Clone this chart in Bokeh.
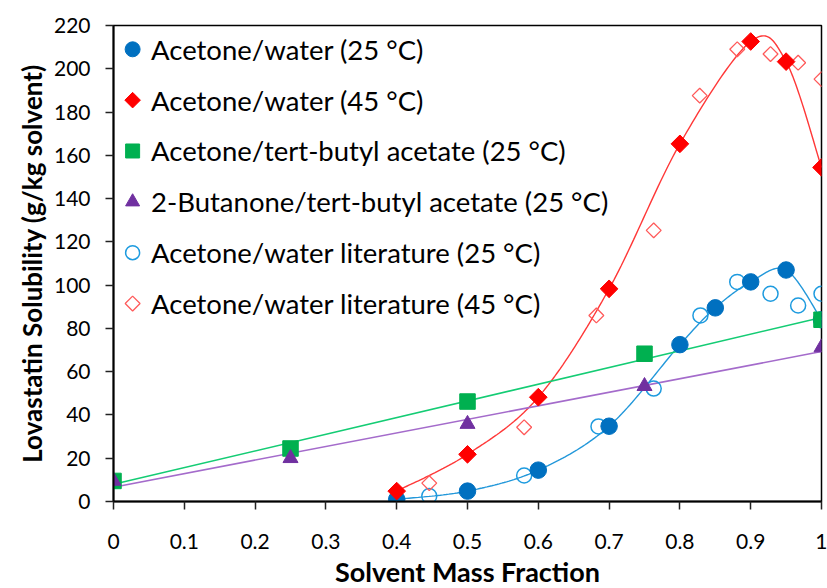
import numpy as np
from bokeh.plotting import figure
from bokeh.models import FixedTicker, NumeralTickFormatter, Title, Label
from bokeh.core.properties import value
from bokeh.embed import file_html
from bokeh.resources import INLINE

# Lovastatin solubility (g/kg solvent) against solvent mass fraction
aw25_x = [0.4, 0.5, 0.6, 0.7, 0.8, 0.85, 0.9, 0.95, 1.0]
aw25_y = [1.0, 4.8, 14.5, 34.8, 72.5, 89.5, 101.5, 107.0, 84.0]

aw45_x = [0.4, 0.5, 0.6, 0.7, 0.8, 0.9, 0.95, 1.0]
aw45_y = [4.8, 21.8, 48.2, 98.3, 165.3, 212.6, 203.3, 154.4]

atba_x = [0.0, 0.25, 0.5, 0.75, 1.0]
atba_y = [9.5, 24.5, 46.2, 68.3, 84.0]

btba_x = [0.0, 0.25, 0.5, 0.75, 1.0]
btba_y = [9.5, 20.0, 35.8, 53.3, 71.2]

lit25_x = [0.446, 0.58, 0.685, 0.763, 0.829, 0.881, 0.928, 0.967, 1.0]
lit25_y = [2.5, 12.0, 34.7, 52.2, 86.0, 101.5, 96.0, 90.6, 96.0]

lit45_x = [0.446, 0.58, 0.682, 0.763, 0.828, 0.881, 0.928, 0.967, 1.0]
lit45_y = [8.5, 34.3, 86.0, 125.3, 187.6, 209.0, 206.8, 202.8, 195.2]

series_names = [
    "Acetone/water (25 °C)",
    "Acetone/water (45 °C)",
    "Acetone/tert-butyl acetate (25 °C)",
    "2-Butanone/tert-butyl acetate (25 °C)",
    "Acetone/water literature (25 °C)",
    "Acetone/water literature (45 °C)",
]

x_title = "Solvent Mass Fraction"
y_title = "Lovastatin Solubility (g/kg solvent)"

x_ticks = [i / 10 for i in range(11)]
y_ticks = list(range(0, 221, 20))

BLUE, BLUE_LIGHT, BLUE_LINE = "#0070C0", "#1E9BDF", "#2398DA"
RED, RED_LIGHT, RED_LINE = "#FF0000", "#FF5A5A", "#FF3838"
GREEN, GREEN_LINE = "#00B050", "#14CC74"
PURPLE, PURPLE_LINE = "#7030A0", "#A46BCB"
FONT = "Lato"


def smooth(xs, ys, n=30):
    """Smoothed line through the points (cubic Bezier, Catmull-Rom tangents)."""
    P = np.column_stack([np.asarray(xs, float), np.asarray(ys, float)])
    m = len(P)
    out = [P[0]]
    t = np.linspace(0, 1, n)[1:, None]
    for i in range(m - 1):
        p0 = P[max(i - 1, 0)]
        p1, p2 = P[i], P[i + 1]
        p3 = P[min(i + 2, m - 1)]
        c1 = p1 + (p2 - p0) / 6.0
        c2 = p2 - (p3 - p1) / 6.0
        seg = ((1 - t) ** 3) * p1 + 3 * ((1 - t) ** 2) * t * c1 + 3 * (1 - t) * t ** 2 * c2 + t ** 3 * p2
        out.extend(seg)
    out = np.array(out)
    return out[:, 0], out[:, 1]


W, H = 827, 588
p = figure(
    width=W, height=H,
    x_range=(0, 1), y_range=(0, 220),
    output_backend="svg", toolbar_location=None,
    min_border_left=113, min_border_right=6,
    min_border_top=25, min_border_bottom=87,
)
p.grid.visible = False
p.outline_line_color = "black"
p.outline_line_width = 1.5
p.background_fill_color = "white"
p.border_fill_color = "white"

for ax in (p.xaxis[0], p.yaxis[0]):
    ax.axis_line_color = "black"
    ax.axis_line_width = 2
    ax.major_tick_line_color = "#222222"
    ax.major_tick_line_width = 1.5
    ax.major_tick_out = 8
    ax.major_tick_in = 0
    ax.minor_tick_line_color = None
    ax.major_label_text_font = FONT
    ax.major_label_text_font_size = "21px"
    ax.major_label_text_color = "black"

p.xaxis.ticker = FixedTicker(ticks=x_ticks)
p.xaxis.formatter = NumeralTickFormatter(format="0.[0]")
p.xaxis.major_label_standoff = 24

p.yaxis.ticker = FixedTicker(ticks=y_ticks)
p.yaxis.major_label_standoff = 15

# horizontal axis title, placed in canvas coordinates near the bottom edge
p.add_layout(Label(x=467, y=H - 17, x_units="canvas", y_units="canvas", text=x_title,
                   text_align="center", text_baseline="middle", text_font=FONT,
                   text_font_size="27px", text_font_style="bold", text_color="black"),
             "below")

# vertical axis title, set a little above the frame centre
p.add_layout(Title(text=y_title, align="center", offset=37, standoff=6, text_font=FONT,
                   text_font_size="26px", text_font_style="bold", text_color="black"), "left")

# fitted / smoothed lines
sx, sy = smooth(aw25_x, aw25_y)
p.line(sx, sy, line_color=BLUE_LINE, line_width=1.4)
sx, sy = smooth(aw45_x, aw45_y)
p.line(sx, sy, line_color=RED_LINE, line_width=1.4)
for xs, ys, col in ((atba_x, atba_y, GREEN_LINE), (btba_x, btba_y, PURPLE_LINE)):
    k, b = np.polyfit(xs, ys, 1)
    p.line([0, 1], [b, b + k], line_color=col, line_width=1.6)

# markers
p.scatter(lit25_x, lit25_y, marker="circle", size=15, fill_color=None,
          line_color=BLUE_LIGHT, line_width=1.5)
p.scatter(lit45_x, lit45_y, marker="square", angle=np.pi / 4, size=10.5,
          fill_color=None, line_color=RED_LIGHT, line_width=1.3)
p.scatter(aw25_x, aw25_y, marker="circle", size=16.5, fill_color=BLUE, line_color=BLUE)
p.scatter(aw45_x, aw45_y, marker="square", angle=np.pi / 4, size=12.5,
          fill_color=RED, line_color=RED)
p.scatter(atba_x, atba_y, marker="square", size=15.5, fill_color=GREEN, line_color=GREEN)
p.scatter(btba_x, btba_y, marker="triangle", size=15, fill_color=PURPLE, line_color=PURPLE)

# legend keys and labels (upper left, inside the frame)
leg_x_key = 0.027
leg_x_text = 0.053
leg_top = 209.0
leg_step = 23.5
rows = [leg_top - i * leg_step for i in range(len(series_names))]
key_styles = [
    dict(marker="circle", size=15, fill_color=BLUE, line_color=BLUE),
    dict(marker="square", angle=np.pi / 4, size=11, fill_color=RED, line_color=RED),
    dict(marker="square", size=14, fill_color=GREEN, line_color=GREEN),
    dict(marker="triangle", size=14, fill_color=PURPLE, line_color=PURPLE),
    dict(marker="circle", size=14, fill_color=None, line_color=BLUE_LIGHT, line_width=1.5),
    dict(marker="square", angle=np.pi / 4, size=10.5, fill_color=None, line_color=RED_LIGHT, line_width=1.3),
]
for yv, st in zip(rows, key_styles):
    p.scatter([leg_x_key], [yv], **st)
p.text(x=[leg_x_text] * len(rows), y=rows, text=series_names,
       text_font=value(FONT), text_font_size="27.5px", text_color="black",
       text_baseline="middle", text_align="left")

open("out.html", "w").write(file_html(p, INLINE))
